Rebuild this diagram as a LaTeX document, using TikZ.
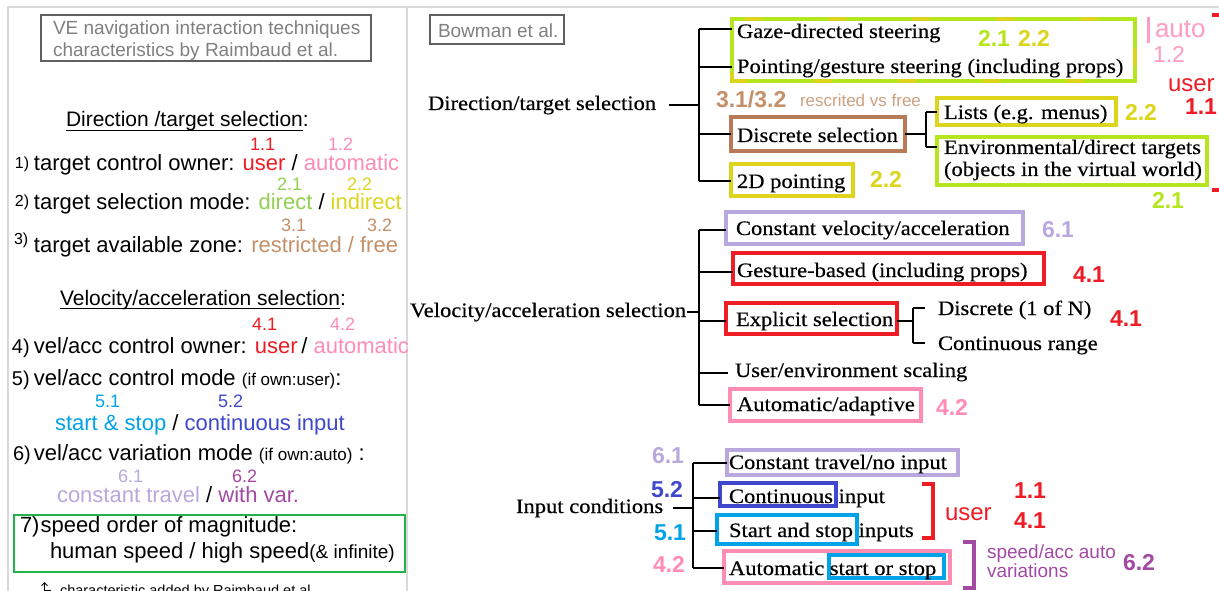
\documentclass[tikz,border=0pt]{standalone}
\usepackage{fontspec}
\setmainfont{Liberation Serif}
\setsansfont{Liberation Sans}
\newfontfamily\tms[FakeStretch=1.1,FakeBold=0.4]{Liberation Serif}
\usetikzlibrary{arrows.meta}
\definecolor{redc}{HTML}{EE1C25}
\definecolor{pinkc}{HTML}{FF8DB2}
\definecolor{lpinkc}{HTML}{FF9DC0}
\definecolor{greenc}{HTML}{92D050}
\definecolor{ygc}{HTML}{B5E61D}
\definecolor{yelc}{HTML}{DDD41C}
\definecolor{tanc}{HTML}{C4906A}
\definecolor{brownc}{HTML}{B97A57}
\definecolor{lavc}{HTML}{B8A8DE}
\definecolor{lbluec}{HTML}{00A2E8}
\definecolor{bluec}{HTML}{3F48CC}
\definecolor{purc}{HTML}{A349A4}
\definecolor{gboxc}{HTML}{22B14C}
\definecolor{panelc}{HTML}{D9D9D9}
\definecolor{graytxt}{HTML}{808080}
\definecolor{grayline}{HTML}{606060}
\begin{document}
\begin{tikzpicture}[x=1pt,y=-1pt,
  base/.style={anchor=base west,inner sep=0,outer sep=0},
  lt/.style={base,font=\sffamily\fontsize{22}{26}\selectfont},
  lh/.style={base,font=\sffamily\fontsize{21}{25}\selectfont},
  lnum/.style={base,font=\sffamily\fontsize{18}{21}\selectfont},
  lsm/.style={base,font=\sffamily\fontsize{16}{19}\selectfont},
  lmid/.style={base,font=\sffamily\fontsize{20}{24}\selectfont},
  ttl/.style={base,font=\sffamily\fontsize{19}{23}\selectfont,text=graytxt},
  tr/.style={base,font=\tms\fontsize{20.5}{24}\selectfont},
  rnum/.style={base,font=\sffamily\bfseries\fontsize{23}{27}\selectfont},
  rreg/.style={base,font=\sffamily\fontsize{24}{28}\selectfont},
  box/.style={draw=#1,line width=3.5,anchor=north west,inner sep=0,outer sep=0},
  tree/.style={line width=2.2,black},
  brk/.style={line width=3.2}]
\clip (0,0) rectangle (1219,591);
\fill[white] (0,0) rectangle (1219,591);
% panels
\draw[panelc,line width=1.5] (8,595) -- (8,7) -- (1225,7);
\draw[panelc,line width=1.5] (407,7) -- (407,595);

% ---------------- left panel ----------------
\node[draw=grayline,line width=1.3,minimum width=330,minimum height=46,anchor=north west,inner sep=0,outer sep=0] (tbox) at (41,15) {};
\node[ttl] (t1) at (53,35) {VE navigation interaction techniques};
\node[ttl] (t2) at (53,57) {characteristics by Raimbaud et al.};

\node[lh] (h1) at (66,127) {Direction /target selection};
\node[lh] (h1c) at (h1.base east) {:};
\draw[line width=1] ([yshift=-4]h1.base west) -- ([yshift=-4]h1.base east);

\node[lnum,text=redc] (n11) at (250,151) {1.1};
\node[lnum,text=pinkc] (n12) at (328,151) {1.2};
\node[lsm] (p1) at (15,169) {1)};
\node[lt] (r1) at (34,171) {target control owner: \textcolor{redc}{user} / \textcolor{pinkc}{automatic}};

\node[lnum,text=greenc] (n21) at (277,190) {2.1};
\node[lnum,text=yelc] (n22) at (347,190) {2.2};
\node[lsm] (p2) at (15,207) {2)};
\node[lt] (r2) at (34,209) {target selection mode: \textcolor{greenc}{direct} / \textcolor{yelc}{indirect}};

\node[lnum,text=tanc] (n31) at (281,232) {3.1};
\node[lnum,text=tanc] (n32) at (367,232) {3.2};
\node[lsm] (p3) at (14,244) {3)};
\node[lt] (r3) at (34,252) {target available zone: \textcolor{tanc}{restricted / free}};

\node[lh] (h2) at (60,305) {Velocity/acceleration selection};
\node[lh] (h2c) at (h2.base east) {:};
\draw[line width=1] ([yshift=-3]h2.base west) -- ([yshift=-3]h2.base east);

\node[lnum,text=redc] (n41) at (252,330) {4.1};
\node[lnum,text=pinkc] (n42) at (330,330) {4.2};
\node[lmid] (p4) at (12,353) {4)};
\node[lt] (r4) at (34,353) {vel/acc control owner: \textcolor{redc}{user}\,/ \textcolor{pinkc}{automatic}};

\node[lmid] (p5) at (12,385) {5)};
\node[lt] (r5) at (34,385) {vel/acc control mode {\fontsize{17}{20}\selectfont (if own:user)}:};
\node[lnum,text=lbluec] (n51) at (95,407) {5.1};
\node[lnum,text=bluec] (n52) at (218,407) {5.2};
\node[lt] (r5b) at (55,430) {\textcolor{lbluec}{start \& stop} / \textcolor{bluec}{continuous input}};

\node[lmid] (p6) at (13,460) {6)};
\node[lt] (r6) at (34,460) {vel/acc variation mode {\fontsize{17}{20}\selectfont (if own:auto)} :};
\node[lnum,text=lavc] (n61) at (118,482) {6.1};
\node[lnum,text=purc] (n62) at (232,482) {6.2};
\node[lt] (r6b) at (57,502) {\textcolor{lavc}{constant travel} / \textcolor{purc}{with var.}};

\node[draw=gboxc,line width=2.5,minimum width=391,minimum height=57,anchor=north west,inner sep=0,outer sep=0] (sbox) at (14,515) {};
\node[lt] (r7) at (20,532) {7)\kern1pt speed order of magnitude:};
\node[lt] (r7b) at (50,558) {human speed / high speed{\fontsize{19}{22}\selectfont(\& infinite)}};

\draw[-{Straight Barb[length=3,width=6]},line width=0.9] (51,590.5) -- (44.5,590.5) -- (44.5,582);
\node[base,font=\sffamily\fontsize{14.5}{17}\selectfont] (foot) at (60,595) {characteristic added by Raimbaud et al.};

% ---------------- right panel ----------------
\node[draw=grayline,line width=1.3,minimum width=134,minimum height=29,anchor=north west,inner sep=0,outer sep=0] (bbox) at (430,15) {};
\node[ttl] (bow) at (438,38) {Bowman et al.};

% Direction / target selection tree
\node[tr] (dts) at (428,110) {Direction/target selection};
\coordinate (d1) at (699,29);
\coordinate (d2) at (699,67);
\coordinate (d3) at (699,134);
\coordinate (d4) at (699,181);
\node[box=ygc,minimum width=403,minimum height=62] (gbox) at (732,19) {};
\draw[yelc,line width=3.5,dash pattern=on 18 off 66,dash phase=10] (gbox.south west) -- (gbox.north west) -- (gbox.north east) -- (gbox.south east) -- cycle;
\node[tr] (gaze) at (737,38) {Gaze-directed steering};
\node[tr] (point) at (737,73) {Pointing/gesture steering (including props)};
\node[box=brownc,minimum width=174,minimum height=34] (dbox) at (731,117) {};
\node[tr] (disc) at (737,142) {Discrete selection};
\node[box=yelc,minimum width=122,minimum height=32] (pbox) at (731,164) {};
\node[tr] (p2d) at (737,188) {2D pointing};
\node[box=yelc,minimum width=179,minimum height=27] (lbox) at (937,98) {};
\node[tr] (lists) at (944,119) {Lists (e.g. menus)};
\node[box=ygc,minimum width=270,minimum height=48] (ebox) at (937,137) {};
\node[tr] (env1) at (944,154) {Environmental/direct targets};
\node[tr] (env2) at (944,176) {(objects in the virtual world)};

\draw[tree] ([xshift=13]dts.east) -- (dts.east -| d1);
\draw[tree] (d1) -- (d4);
\draw[tree] (d1) -- (d1 -| gbox.west);
\draw[tree] (d2) -- (d2 -| gbox.west);
\draw[tree] (d3) -- (dbox.west);
\draw[tree] (d4) -- (d4 -| pbox.west);
\coordinate (s0) at (926,134);
\coordinate (s1) at (926,112);
\coordinate (s2) at (926,147);
\draw[tree] (dbox.east) -- (s0);
\draw[tree] (s1) -- (s2);
\draw[tree] (s1) -- (s1 -| lbox.west);
\draw[tree] (s2) -- (s2 -| ebox.west);

\node[rnum,text=ygc] (a21) at (978,47) {2.1};
\node[rnum,text=yelc] (a22) at (1018,47) {2.2};
\node[rnum,text=tanc] (a3) at (716,108) {3.1/3.2};
\node[base,font=\sffamily\fontsize{17}{20}\selectfont,text=tanc!85] (resc) at (800,107) {rescrited vs free};
\node[rnum,text=yelc] (b22) at (1125,121) {2.2};
\node[rnum,text=ygc] (b21) at (1152,208) {2.1};
\node[rnum,text=yelc] (c22) at (870,188) {2.2};

\draw[lpinkc,line width=3] (1148,17) -- (1148,43);
\node[base,font=\sffamily\fontsize{26}{30}\selectfont,text=lpinkc] (auto) at (1155,38) {auto};
\node[base,font=\sffamily\fontsize{23}{27}\selectfont,text=lpinkc] (n12r) at (1153,63) {1.2};
\node[rreg,text=redc] (user1) at (1168,92) {user};
\node[rnum,text=redc] (n11r) at (1185,115) {1.1};
\draw[redc,brk] (1212,15) -- (1223,15) -- (1223,190) -- (1212,190);

% Velocity / acceleration selection tree
\node[tr] (vel) at (410,317) {Velocity/acceleration selection};
\coordinate (v1) at (699,230);
\coordinate (v2) at (699,272);
\coordinate (v3) at (699,321);
\coordinate (v4) at (699,373);
\coordinate (v5) at (699,405);
\node[box=lavc,minimum width=297,minimum height=32] (cvbox) at (726,212) {};
\node[tr] (cv) at (736,235) {Constant velocity/acceleration};
\node[box=redc,minimum width=311,minimum height=31] (gbbox) at (733,253) {};
\node[tr] (gb) at (737,277) {Gesture-based (including props)};
\node[box=redc,minimum width=171,minimum height=31] (exbox) at (726,303) {};
\node[tr] (ex) at (736,326) {Explicit selection};
\node[tr] (usr) at (735,377) {User/environment scaling};
\node[box=pinkc,minimum width=191,minimum height=32] (aabox) at (730,389) {};
\node[tr] (aa) at (737,411) {Automatic/adaptive};
\node[tr] (dn) at (938,315) {Discrete (1 of N)};
\node[tr] (cr) at (938,350) {Continuous range};

\draw[tree] ([xshift=1]vel.east) -- (vel.east -| v1);
\draw[tree] (v1) -- (v5);
\draw[tree] (v1) -- (v1 -| cvbox.west);
\draw[tree] (v2) -- (v2 -| gbbox.west);
\draw[tree] (v3) -- (v3 -| exbox.west);
\draw[tree] (v4) -- ([xshift=-7]v4 -| usr.west);
\draw[tree] (v5) -- (v5 -| aabox.west);
\coordinate (e0) at (913,321);
\coordinate (e1) at (913,308);
\coordinate (e2) at (913,343);
\draw[tree] (v3 -| exbox.east) -- (e0);
\draw[tree] (e1) -- (e2);
\draw[tree] (e1) -- ([xshift=-13]e1 -| dn.west);
\draw[tree] (e2) -- ([xshift=-13]e2 -| cr.west);

\node[rnum,text=lavc] (m61) at (1042,237) {6.1};
\node[rnum,text=redc] (m41a) at (1073,282) {4.1};
\node[rnum,text=redc] (m41b) at (1110,326) {4.1};
\node[rnum,text=pinkc] (m42) at (936,415) {4.2};

% Input conditions tree
\node[tr] (inp) at (516,513) {Input conditions};
\coordinate (i1) at (693,463);
\coordinate (i2) at (693,498);
\coordinate (i3) at (693,531);
\coordinate (i4) at (693,568);
\node[box=lavc,minimum width=231,minimum height=25] (ctbox) at (727,450) {};
\node[tr] (ct) at (729,469) {Constant travel/no input};
\node[box=bluec,minimum width=116,minimum height=23] (cobox) at (720,483) {};
\node[tr] (co) at (729,503) {Continuous input};
\node[box=lbluec,minimum width=140,minimum height=29] (ssbox) at (717,515) {};
\node[tr] (ss) at (729,537) {Start and stop inputs};
\node[box=pinkc,minimum width=226,minimum height=32] (atbox) at (724,551) {};
\node[box=lbluec,minimum width=115,minimum height=23] (sobox) at (829,555) {};
\node[tr] (at) at (729,575) {Automatic start or stop};

\draw[tree] ([xshift=10]inp.east) -- (inp.east -| i1);
\draw[tree] (i1) -- (i4);
\draw[tree] (i1) -- (i1 -| ctbox.west);
\draw[tree] (i2) -- (i2 -| cobox.west);
\draw[tree] (i3) -- (i3 -| ssbox.west);
\draw[tree] (i4) -- (i4 -| atbox.west);

\node[rnum,text=lavc] (k61) at (652,463) {6.1};
\node[rnum,text=bluec] (k52) at (651,497) {5.2};
\node[rnum,text=lbluec] (k51) at (654,540) {5.1};
\node[rnum,text=pinkc] (k42) at (653,572) {4.2};

\draw[redc,brk] (922,484) -- (933,484) -- (933,538) -- (922,538);
\node[rreg,text=redc] (user2) at (945,520) {user};
\node[rnum,text=redc] (q11) at (1014,498) {1.1};
\node[rnum,text=redc] (q41) at (1014,528) {4.1};
\draw[purc,brk] (963,542) -- (974,542) -- (974,588) -- (963,588);
\node[base,font=\sffamily\fontsize{19}{22}\selectfont,text=purc] (spd) at (987,558) {speed/acc auto};
\node[base,font=\sffamily\fontsize{19}{22}\selectfont,text=purc] (var) at (987,577) {variations};
\node[rnum,text=purc] (q62) at (1123,570) {6.2};
\end{tikzpicture}
\end{document}
